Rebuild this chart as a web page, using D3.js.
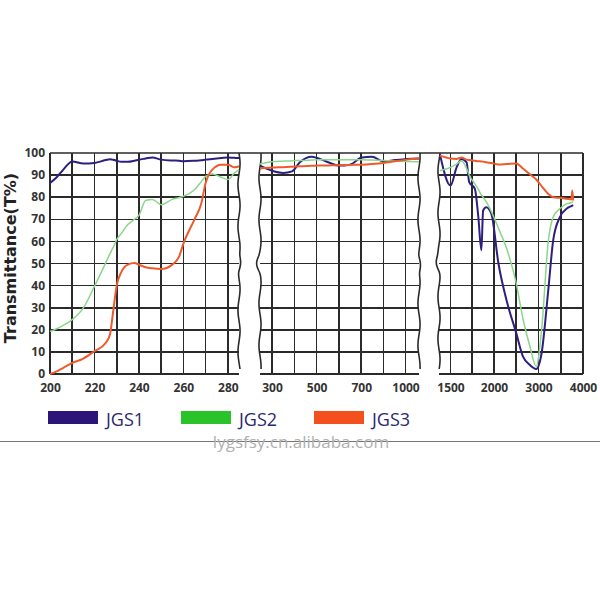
<!DOCTYPE html>
<head>
<meta charset="utf-8">
<title>JGS transmittance</title>
<style>
    body { margin: 0; background: #fff; }
    .tick text { font: bold 12px "Open Sans"; fill: #333; }
    .grid line { stroke: #2a2a2a; stroke-width: 1.6px; shape-rendering: crispEdges; }
    .edge { fill: none; stroke: #2a2a2a; stroke-width: 1.6px; }
    .line { fill: none; stroke-linejoin: round; }
    .legend text { font: 18px "Open Sans"; fill: #2a2a6e; }
</style>
</head>
<body>
<svg width="600" height="600"></svg>
<script src="https://d3js.org/d3.v7.min.js"></script>
<script>

    // panel 1: 200-285 nm
    var p1Wave = [200, 203, 206, 210, 215, 220, 225, 227, 228, 229, 230, 232, 235, 238, 240, 243, 246, 250, 255, 258, 260, 265, 268, 270, 273, 277, 280, 283, 285]
    var p1Jgs1 = [86.4, 89, 92.5, 96.2, 95.2, 95.5, 96.8, 97.2, 97, 96.8, 96.5, 96, 96, 96.5, 97, 97.5, 98, 97, 96.6, 96.5, 96.3, 96.5, 96.7, 97, 97.3, 97.7, 98, 97.8, 97.7]
    var p1Jgs2 = [19.3, 20.5, 22, 24.6, 29.9, 39.7, 50.2, 54.5, 56.5, 58.5, 60.8, 63.5, 67.6, 70, 71.8, 78.5, 79, 76.6, 79, 79.8, 80.4, 83.4, 87, 89.4, 90.5, 89, 88, 91, 92.5]
    var p1Jgs3 = [0, 1.2, 2.8, 5, 7, 10.3, 14, 18, 25, 33, 40, 46, 49.5, 50.2, 49.5, 48.3, 47.8, 47.5, 49.5, 53, 59, 70, 77, 86.4, 92.5, 94.7, 94.7, 93.5, 94]

    // panel 2: 245-1090 nm
    var p2Wave = [245, 300, 350, 390, 425, 478, 503, 552, 600, 650, 703, 748, 800, 905, 1010, 1090]
    var p2Jgs1 = [94.3, 92, 91, 91.7, 95.8, 98.3, 97.7, 95.8, 94.3, 94.7, 98, 98.3, 96.2, 96.8, 97.3, 97.5]
    var p2Jgs2 = [95, 96, 96.3, 96.5, 96.6, 96.8, 97, 97, 97, 97, 97, 96.8, 96.6, 96.4, 96.2, 96]
    var p2Jgs3 = [93, 93.4, 93.6, 93.8, 94, 94.2, 94.3, 94.4, 94.5, 94.6, 94.7, 95, 95.5, 96.3, 97, 97.5]

    // panel 3: 1380-3780 nm
    var p3Wave = [1380, 1500, 1570, 1625, 1685, 1715, 1780, 1820, 1855, 1875, 1910, 1970, 2100, 2280, 2500, 2650, 2800, 2950, 3070, 3220, 3330, 3480, 3630, 3740, 3760, 3780]
    var p3Jgs1 = [99.5, 85.3, 93.5, 97.3, 95.8, 86.8, 83.8, 71, 56, 74, 75.5, 72.5, 50, 33.5, 18.5, 8, 4.2, 2.3, 9.5, 38, 60.5, 71, 74.8, 76, 76.2, 76.4]
    var p3Jgs2 = [92, 93.5, 95, 96.5, 93, 90, 86, 83.5, 81, 80, 78, 73.5, 66, 57, 41, 25, 13, 3.5, 20, 60, 71, 74.8, 77, 77.6, 77.8, 78]
    var p3Jgs3 = [98.8, 97.5, 97.3, 98, 97, 96.8, 96.5, 96.3, 96.2, 96.1, 95.8, 95.5, 94.8, 95, 95.3, 93, 90.5, 88, 85, 81.5, 80, 79.7, 79.3, 79, 83, 78.5]

    var yTicks = [0, 10, 20, 30, 40, 50, 60, 70, 80, 90, 100]
    var seriesNames = ["JGS1", "JGS2", "JGS3"]
    var lineColors = ["#2e1f7f", "#8ad68a", "#ee5a2c"]
    var legendColors = ["#2c1478", "#2ac42a", "#f4501e"]

    var svg = d3.select("svg")

    var y = d3.scaleLinear().domain([0, 100]).range([374, 153])

    var panels = [
        {
            x: d3.scaleLinear().domain([200, 285]).range([50, 239]),
            lo: 200, hi: 285, waveLeft: false, waveRight: true,
            grid: [200, 210, 220, 230, 240, 250, 260, 270, 280],
            labels: [200, 220, 240, 260, 280],
            wave: p1Wave, series: [p1Jgs1, p1Jgs2, p1Jgs3]
        },
        {
            x: d3.scaleLinear().domain([245, 300, 800, 1000, 1090]).range([260, 272, 383.5, 405.5, 419]),
            lo: 245, hi: 1090, waveLeft: true, waveRight: true,
            grid: [300, 400, 500, 600, 700, 800, 1000],
            labels: [300, 500, 700, 1000],
            wave: p2Wave, series: [p2Jgs1, p2Jgs2, p2Jgs3]
        },
        {
            x: d3.scaleLinear().domain([1370, 1500, 2000, 4000]).range([439, 450.5, 494, 583]),
            lo: 1370, hi: 4000, waveLeft: true, waveRight: false,
            grid: [1500, 1750, 2000, 2500, 3000, 3500, 4000],
            labels: [1500, 2000, 3000, 4000],
            wave: p3Wave, series: [p3Jgs1, p3Jgs2, p3Jgs3]
        }
    ]

    // continuous top border
    svg.append("line")
        .attr("x1", panels[0].x(200)).attr("x2", panels[2].x(4000))
        .attr("y1", y(100)).attr("y2", y(100))
        .attr("stroke", "#2a2a2a").attr("stroke-width", 1.6)

    var wavy = d3.line().x(function (d) { return d[0] }).y(function (d) { return d[1] }).curve(d3.curveBasis)

    panels.forEach(function (p, pi) {
        var g = svg.append("g")
        var x0 = p.x(p.lo), x1 = p.x(p.hi)

        var grid = g.append("g").attr("class", "grid")
        grid.selectAll(".h").data(yTicks.slice(0, 10)).enter().append("line")
            .attr("x1", x0).attr("x2", x1)
            .attr("y1", function (d) { return y(d) }).attr("y2", function (d) { return y(d) })
        grid.selectAll(".v").data(p.grid).enter().append("line")
            .attr("x1", function (d) { return p.x(d) }).attr("x2", function (d) { return p.x(d) })
            .attr("y1", y(0)).attr("y2", y(100))

        // break marks on cut edges
        ;[[p.waveLeft, x0, 1], [p.waveRight, x1, -1]].forEach(function (e) {
            if (!e[0]) return
            var pts = d3.range(y(100), y(0) + 1, 6).map(function (yy, i) {
                return [e[1] + Math.sin(i * 0.9 + pi) * 1.2 + (Math.abs(yy - 265) < 6 ? -2.5 * e[2] : 0), yy]
            })
            g.append("path").attr("class", "edge").attr("d", wavy(pts))
        })

        p.series.forEach(function (vals, si) {
            var pts = p.wave.map(function (w, i) { return [w, vals[i]] })
            g.append("path")
                .attr("class", "line")
                .attr("stroke", lineColors[si])
                .attr("stroke-width", si === 1 ? 1.5 : 2)
                .attr("d", d3.line()
                    .x(function (d) { return p.x(d[0]) })
                    .y(function (d) { return y(d[1]) })
                    .curve(d3.curveMonotoneX)(pts))
        })

        g.append("g")
            .attr("transform", "translate(0," + (y(0) + 4) + ")")
            .call(d3.axisBottom(p.x).tickValues(p.labels).tickSize(0).tickPadding(5).tickFormat(d3.format("d")))
            .call(function (a) { a.select(".domain").remove() })
    })

    svg.append("g")
        .attr("transform", "translate(" + 47 + ",0)")
        .call(d3.axisLeft(y).tickValues(yTicks).tickSize(0).tickPadding(2))
        .call(function (a) { a.select(".domain").remove() })
        .selectAll(".tick text").attr("dy", "0.3em")

    svg.append("text")
        .attr("transform", "translate(16,258) rotate(-90)")
        .attr("text-anchor", "middle")
        .style("font", "bold 16px 'DejaVu Sans'")
        .attr("fill", "#222")
        .text("Transmittance(T%)")

    var legend = svg.append("g").attr("class", "legend")
        .selectAll("g").data(seriesNames).enter().append("g")
        .attr("transform", function (d, i) { return "translate(" + (48 + i * 133) + ",411)" })
    legend.append("rect").attr("width", 50).attr("height", 13)
        .attr("fill", function (d, i) { return legendColors[i] })
    legend.append("text").attr("x", 58).attr("y", 14.5).text(function (d) { return d })

    svg.append("line").attr("x1", 0).attr("x2", 600).attr("y1", 441.5).attr("y2", 441.5)
        .attr("stroke", "#777").attr("stroke-width", 1.2)

    svg.append("text")
        .attr("x", 301).attr("y", 448)
        .attr("text-anchor", "middle")
        .style("font", "17px 'Open Sans'")
        .attr("fill", "#b0b0b0")
        .text("lygsfsy.cn.alibaba.com")

</script>
</body>
